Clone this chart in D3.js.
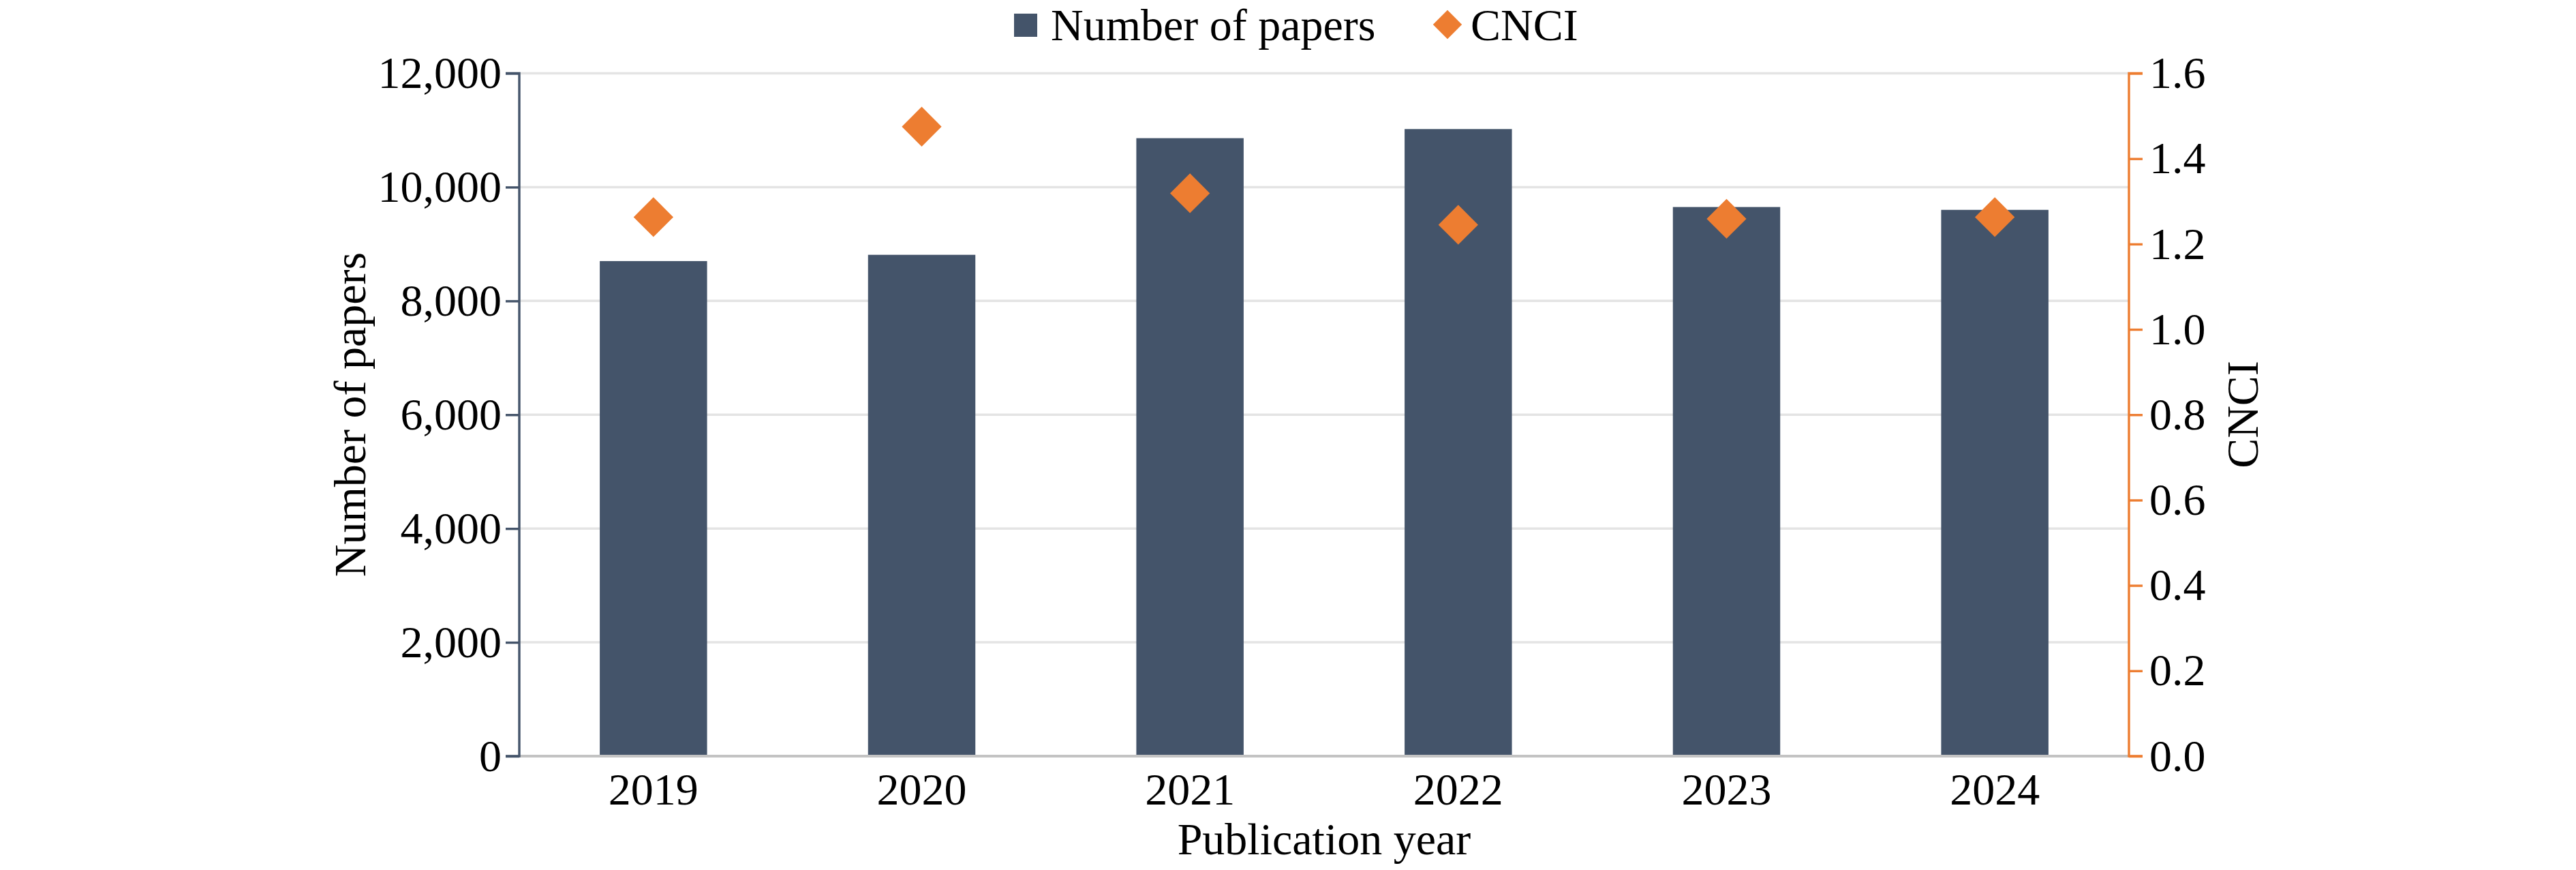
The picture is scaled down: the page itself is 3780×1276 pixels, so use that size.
<!DOCTYPE html>
<html>
<head>
<meta charset="utf-8">
<script src="https://cdn.jsdelivr.net/npm/d3@7"></script>
<style>
  body { margin: 0; background: #fff; }
  svg { display: block; }
  text { font-family: "Liberation Serif", "Times New Roman", serif; fill: #000; }
</style>
</head>
<body>
<svg id="chart" width="3780" height="1276"></svg>
<script>
const years = ["2019", "2020", "2021", "2022", "2023", "2024"];
const papers = [8700, 8810, 10860, 11020, 9650, 9600];
const cnci = [1.263, 1.475, 1.319, 1.245, 1.259, 1.263];
const leftTicks = [0, 2000, 4000, 6000, 8000, 10000, 12000];
const rightTicks = [0, 0.2, 0.4, 0.6, 0.8, 1.0, 1.2, 1.4, 1.6];
const seriesNames = ["Number of papers", "CNCI"];
const axisTitles = { x: "Publication year", left: "Number of papers", right: "CNCI" };

(function () {
const barColor = "#44546A";
const markColor = "#ED7D31";
const fontSize = 66;

const svg = d3.select("#chart");
const pL = 762, pR = 3124, pT = 107.5, pB = 1109;

const x = d3.scaleBand().domain(years).range([pL, pR]).paddingInner(0.6).paddingOuter(0.3);
const yL = d3.scaleLinear().domain([0, 12000]).range([pB, pT]);
const yR = d3.scaleLinear().domain([0, 1.6]).range([pB, pT]);

// gridlines
svg.append("g").selectAll("line").data(leftTicks.filter(d => d > 0)).join("line")
  .attr("x1", pL).attr("x2", pR)
  .attr("y1", d => yL(d)).attr("y2", d => yL(d))
  .attr("stroke", "#e4e4e4").attr("stroke-width", 3.5);

// bars
svg.append("g").selectAll("rect").data(years).join("rect")
  .attr("x", d => x(d))
  .attr("width", x.bandwidth())
  .attr("y", (d, i) => yL(papers[i]))
  .attr("height", (d, i) => pB - yL(papers[i]))
  .attr("fill", barColor);

// x axis baseline
svg.append("line")
  .attr("x1", pL).attr("x2", pR).attr("y1", pB).attr("y2", pB)
  .attr("stroke", "#c3c3c3").attr("stroke-width", 4);

// diamonds
const diamond = d3.symbol().type(d3.symbolSquare).size(1700);
svg.append("g").selectAll("path").data(years).join("path")
  .attr("d", diamond)
  .attr("transform", (d, i) => `translate(${x(d) + x.bandwidth() / 2},${yR(cnci[i])}) rotate(45)`)
  .attr("fill", markColor);

// left axis
const axL = svg.append("g").attr("transform", `translate(${pL},0)`)
  .call(d3.axisLeft(yL).tickValues(leftTicks).tickSize(20).tickPadding(6).tickFormat(d3.format(",")));
axL.select(".domain").attr("stroke", barColor).attr("stroke-width", 3.4).attr("d", `M-20,${pT}H0V${pB}H-20`);
axL.selectAll(".tick line").attr("stroke", barColor).attr("stroke-width", 3.4);
axL.selectAll(".tick text").style("font-size", fontSize + "px").attr("fill", "#000").attr("font-family", null);

// right axis
const axR = svg.append("g").attr("transform", `translate(${pR},0)`)
  .call(d3.axisRight(yR).tickValues(rightTicks).tickSize(20).tickPadding(10).tickFormat(d3.format(".1f")));
axR.select(".domain").attr("stroke", markColor).attr("stroke-width", 3.4).attr("d", `M20,${pT}H0V${pB}H20`);
axR.selectAll(".tick line").attr("stroke", markColor).attr("stroke-width", 3.4);
axR.selectAll(".tick text").style("font-size", fontSize + "px").attr("fill", "#000").attr("font-family", null);

// x axis labels
const axX = svg.append("g").attr("transform", `translate(0,${pB})`)
  .call(d3.axisBottom(x).tickSize(0).tickPadding(24));
axX.select(".domain").remove();
axX.selectAll(".tick text").style("font-size", fontSize + "px").attr("fill", "#000").attr("font-family", null);

// axis titles
svg.append("text").attr("x", (pL + pR) / 2).attr("y", 1253)
  .attr("text-anchor", "middle").style("font-size", fontSize + "px").text(axisTitles.x);
svg.append("text").attr("transform", `translate(536,608) rotate(-90)`)
  .attr("text-anchor", "middle").style("font-size", fontSize + "px").text(axisTitles.left);
svg.append("text").attr("transform", `translate(3313,608) rotate(-90)`)
  .attr("text-anchor", "middle").style("font-size", fontSize + "px").text(axisTitles.right);

// legend
const lg = svg.append("g");
lg.append("rect").attr("x", 1488).attr("y", 20).attr("width", 34).attr("height", 34).attr("fill", barColor);
lg.append("text").attr("x", 1542).attr("y", 59).style("font-size", fontSize + "px").text(seriesNames[0]);
lg.append("path").attr("d", d3.symbol().type(d3.symbolSquare).size(900))
  .attr("transform", "translate(2124,36) rotate(45)").attr("fill", markColor);
lg.append("text").attr("x", 2158).attr("y", 59).style("font-size", fontSize + "px").text(seriesNames[1]);
})();
</script>
</body>
</html>
